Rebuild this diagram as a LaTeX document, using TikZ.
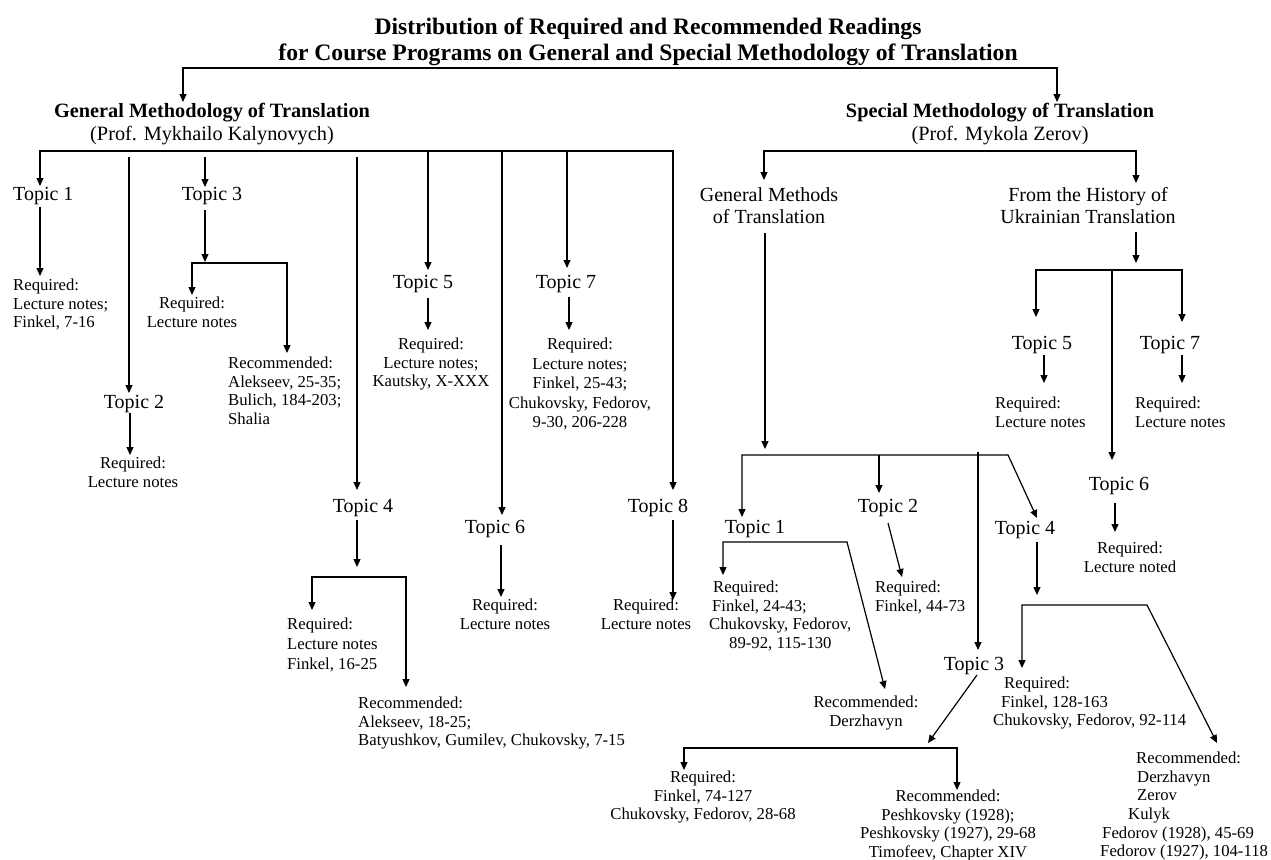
\documentclass[tikz,border=0pt]{standalone}
\usepackage{fontspec}
\setmainfont{Liberation Serif}
\usetikzlibrary{arrows.meta}
\begin{document}
\begin{tikzpicture}[x=1pt,y=-1pt,
  tip/.tip={Triangle[length=8pt,width=7pt]},
  arr/.style={line width=1.2pt, -tip},
  arr2/.style={line width=1.2pt, tip-tip, line join=miter},
  ttl/.style={font=\fontsize{23.6}{26}\selectfont\bfseries, align=center, inner sep=0pt},
  head/.style={font=\fontsize{20.3}{23}\selectfont, align=center, inner sep=0pt},
  topic/.style={font=\fontsize{20}{22}\selectfont, align=center, inner sep=0pt},
  small/.style={font=\fontsize{16.7}{18.6}\selectfont, inner sep=0pt},
  lft/.style={small, align=left, anchor=north west},
  ctr/.style={small, align=center, anchor=north},
]
\useasboundingbox (0,0) rectangle (1271,859);
\fill[white] (0,0) rectangle (1271,859);

% ---------------- title and headings ----------------
\node[ttl, anchor=north] (title) at (648,18) {Distribution of Required and Recommended Readings\\for Course Programs on General and Special Methodology of Translation};
\node[head, anchor=north] (gm) at (212,103) {{\bfseries General Methodology of Translation}\\(Prof. Mykhailo Kalynovych)};
\node[head, anchor=north] (sm) at (1000,103) {{\bfseries Special Methodology of Translation}\\(Prof. Mykola Zerov)};
\draw[arr2] (183,102) -- (183,68) -- (1057,68) -- (1057,102);

% ---------------- general methodology ----------------
\node[topic, anchor=north west] (t1) at (13,187) {Topic 1};
\node[lft] (r1) at (13,279) {Required:\\Lecture notes;\\Finkel, 7-16};
\node[topic, anchor=north] (t2) at (134,395) {Topic 2};
\node[ctr] (r2) at (133,457) {Required:\\Lecture notes};
\node[topic, anchor=north] (t3) at (212,187) {Topic 3};
\node[ctr] (r3) at (192,297) {Required:\\Lecture notes};
\node[lft] (c3) at (228,357) {Recommended:\\Alekseev, 25-35;\\Bulich, 184-203;\\Shalia};
\node[topic, anchor=north] (t4) at (363,499) {Topic 4};
\node[lft, font=\fontsize{16.7}{20}\selectfont] (r4) at (287,618) {Required:\\Lecture notes\\Finkel, 16-25};
\node[lft] (c4) at (358,697) {Recommended:\\Alekseev, 18-25;\\Batyushkov, Gumilev, Chukovsky, 7-15};
\node[topic, anchor=north] (t5) at (423,275) {Topic 5};
\node[ctr] (r5) at (431,338) {Required:\\Lecture notes;\\Kautsky, X-XXX};
\node[topic, anchor=north] (t6) at (495,520) {Topic 6};
\node[ctr] (r6) at (505,599) {Required:\\Lecture notes};
\node[topic, anchor=north] (t7) at (566,275) {Topic 7};
\node[ctr, font=\fontsize{16.7}{19.5}\selectfont] (r7) at (580,338) {Required:\\Lecture notes;\\Finkel, 25-43;\\Chukovsky, Fedorov,\\9-30, 206-228};
\node[topic, anchor=north] (t8) at (658,499) {Topic 8};
\node[ctr] (r8) at (646,599) {Required:\\Lecture notes};

\draw[arr2] (40,186) -- (40,151) -- (673,151) -- (673,490);
\draw[arr] (129,157) -- (129,393);
\draw[arr] (205,157) -- (205,187);
\draw[arr] (357,157) -- (357,490);
\draw[arr] (428,151) -- (428,270);
\draw[arr] (502,151) -- (502,515);
\draw[arr] (567,151) -- (567,268);
\draw[arr] (40,207) -- (40,276);
\draw[arr] (130,413) -- (130,455);
\draw[arr] (205,210) -- (205,262);
\draw[arr2] (192,295) -- (192,263) -- (287,263) -- (287,353);
\draw[arr] (357,520) -- (357,567);
\draw[arr2] (312,610) -- (312,577) -- (406,577) -- (406,687);
\draw[arr] (428,298) -- (428,330);
\draw[arr] (501,545) -- (501,597);
\draw[arr] (569,297) -- (569,330);
\draw[arr] (673,520) -- (673,600);

% ---------------- special methodology ----------------
\node[topic, anchor=north] (gmeth) at (769,187) {General Methods\\of Translation};
\node[topic, anchor=north] (hist) at (1088,187) {From the History of\\Ukrainian Translation};
\node[topic, anchor=north] (h5) at (1042,336) {Topic 5};
\node[lft] (hr5) at (995,397) {Required:\\Lecture notes};
\node[topic, anchor=north] (h7) at (1170,336) {Topic 7};
\node[lft] (hr7) at (1135,397) {Required:\\Lecture notes};
\node[topic, anchor=north] (h6) at (1119,477) {Topic 6};
\node[ctr] (hr6) at (1130,542) {Required:\\Lecture noted};

\node[topic, anchor=north] (s1) at (755,520) {Topic 1};
\node[lft] (sr1) at (709,581) {\hspace*{4pt}Required:\\\hspace*{3pt}Finkel, 24-43;\\Chukovsky, Fedorov,\\\hspace*{20pt}89-92, 115-130};
\node[ctr] (sc1) at (866,696) {Recommended:\\Derzhavyn};
\node[topic, anchor=north] (s2) at (888,499) {Topic 2};
\node[lft] (sr2) at (875,581) {Required:\\Finkel, 44-73};
\node[topic, anchor=north] (s3) at (974,657) {Topic 3};
\node[ctr] (sr3) at (703,771) {Required:\\Finkel, 74-127\\Chukovsky, Fedorov, 28-68};
\node[ctr] (sc3) at (948,790) {Recommended:\\Peshkovsky (1928);\\Peshkovsky (1927), 29-68\\Timofeev, Chapter XIV};
\node[topic, anchor=north] (s4) at (1025,521) {Topic 4};
\node[lft] (sr4) at (993,677) {\hspace*{11pt}Required:\\\hspace*{8pt}Finkel, 128-163\\Chukovsky, Fedorov, 92-114};
\node[lft] (sc4) at (1100,752) {\hspace*{36pt}Recommended:\\\hspace*{37pt}Derzhavyn\\\hspace*{37pt}Zerov\\\hspace*{28pt}Kulyk\\\hspace*{2pt}Fedorov (1928), 45-69\\Fedorov (1927), 104-118};

\draw[arr2] (764,180) -- (764,151) -- (1136,151) -- (1136,183);
\draw[arr] (765,233) -- (765,449);
\draw[arr] (1136,232) -- (1136,263);
\draw[arr2] (1036,317) -- (1036,270) -- (1182,270) -- (1182,322);
\draw[arr] (1112,270) -- (1112,460);
\draw[arr] (1044,355) -- (1044,383);
\draw[arr] (1182,355) -- (1182,383);
\draw[arr] (1115,503) -- (1115,532);
\draw[arr2] (742,517) -- (742,455) -- (1008,455) -- (1037,518);
\draw[arr] (879,455) -- (879,493);
\draw[arr] (978,452) -- (978,650);
\draw[arr2] (723,575) -- (723,542) -- (847,542) -- (885,689);
\draw[arr] (888,523) -- (902,577);
\draw[arr] (977,675) -- (928,743);
\draw[arr2] (684,770) -- (684,748) -- (957,748) -- (957,790);
\draw[arr] (1037,542) -- (1037,595);
\draw[arr2] (1022,668) -- (1022,605) -- (1147,605) -- (1217,743);
\end{tikzpicture}
\end{document}
